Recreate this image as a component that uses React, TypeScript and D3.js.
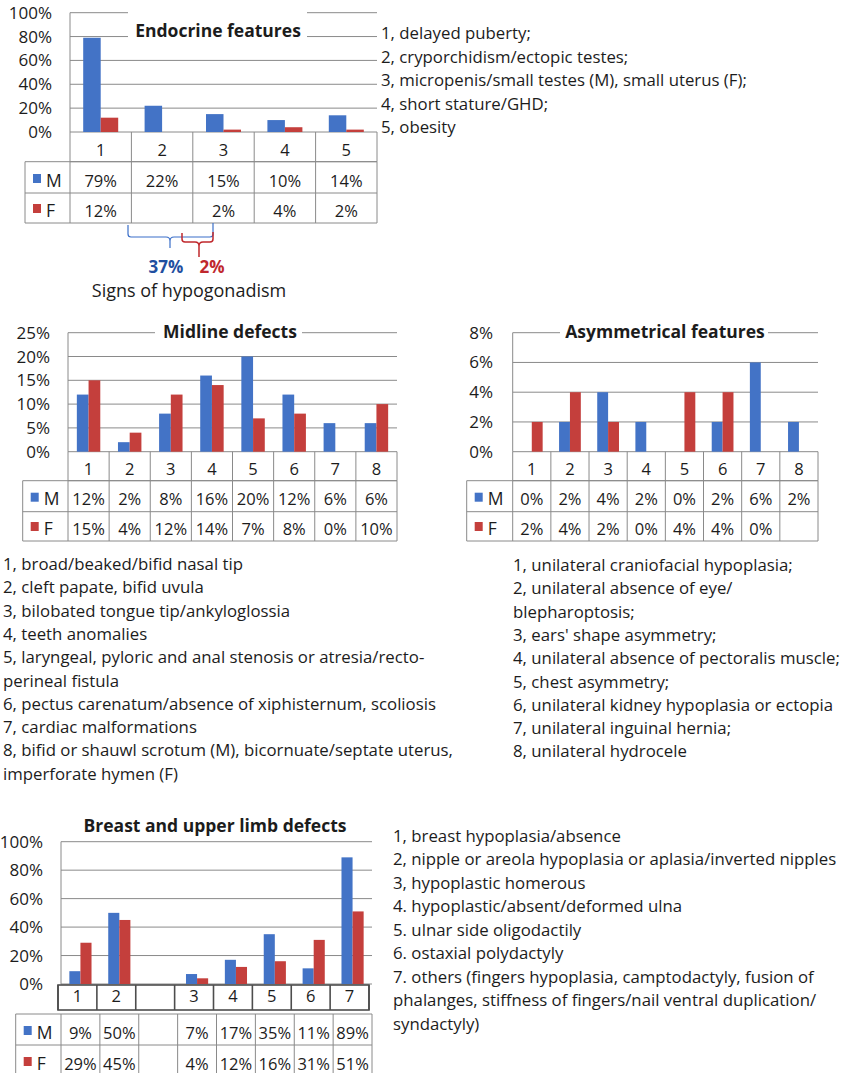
// @ts-nocheck
import React, { useEffect, useRef } from "react";
import * as d3 from "d3";

const BLUE = "#4373c6";
const RED = "#c43f3c";
const INK = "#1c1c1c";
const GRID = "#8a8a8a";
const FONT = "'Open Sans', Lato, sans-serif";

// Endocrine features
const endoCats = ["1", "2", "3", "4", "5"];
const endoM = [79, 22, 15, 10, 14];
const endoF = [12, null, 2, 4, 2];
const endoTicks = [0, 20, 40, 60, 80, 100];
const endoNotes = [
  "1, delayed puberty;",
  "2, cryporchidism/ectopic testes;",
  "3, micropenis/small testes (M), small uterus (F);",
  "4, short stature/GHD;",
  "5, obesity",
];

// Midline defects
const midCats = ["1", "2", "3", "4", "5", "6", "7", "8"];
const midM = [12, 2, 8, 16, 20, 12, 6, 6];
const midF = [15, 4, 12, 14, 7, 8, 0, 10];
const midTicks = [0, 5, 10, 15, 20, 25];
const midNotes = [
  "1, broad/beaked/bifid nasal tip",
  "2, cleft papate, bifid uvula",
  "3, bilobated tongue tip/ankyloglossia",
  "4, teeth anomalies",
  "5, laryngeal, pyloric and anal stenosis or atresia/recto-",
  "perineal fistula",
  "6, pectus carenatum/absence of xiphisternum, scoliosis",
  "7, cardiac malformations",
  "8, bifid or shauwl scrotum (M), bicornuate/septate uterus,",
  "imperforate hymen (F)",
];

// Asymmetrical features
const asymCats = ["1", "2", "3", "4", "5", "6", "7", "8"];
const asymM = [0, 2, 4, 2, 0, 2, 6, 2];
const asymF = [2, 4, 2, 0, 4, 4, 0, null];
const asymTicks = [0, 2, 4, 6, 8];
const asymNotes = [
  "1, unilateral craniofacial hypoplasia;",
  "2, unilateral absence of eye/",
  "blepharoptosis;",
  "3, ears' shape asymmetry;",
  "4, unilateral absence of pectoralis muscle;",
  "5, chest asymmetry;",
  "6, unilateral kidney hypoplasia or ectopia",
  "7, unilateral inguinal hernia;",
  "8, unilateral hydrocele",
];

// Breast and upper limb defects
const breastCats = ["1", "2", "", "3", "4", "5", "6", "7"];
const breastM = [9, 50, null, 7, 17, 35, 11, 89];
const breastF = [29, 45, null, 4, 12, 16, 31, 51];
const breastTicks = [0, 20, 40, 60, 80, 100];
const breastNotes = [
  "1, breast hypoplasia/absence",
  "2, nipple or areola hypoplasia or aplasia/inverted nipples",
  "3, hypoplastic homerous",
  "4. hypoplastic/absent/deformed ulna",
  "5. ulnar side oligodactily",
  "6. ostaxial polydactyly",
  "7. others (fingers hypoplasia, camptodactyly, fusion of",
  "phalanges, stiffness of fingers/nail ventral duplication/",
  "syndactyly)",
];

function line(g, x1, y1, x2, y2, color = GRID, w = 1) {
  g.append("line")
    .attr("x1", x1).attr("y1", y1).attr("x2", x2).attr("y2", y2)
    .attr("stroke", color).attr("stroke-width", w);
}

function drawPanel(svg, p) {
  const g = svg.append("g");
  const idx = p.cats.map((c, i) => i);
  const x = d3.scaleBand().domain(idx).range([p.x0, p.x1]).paddingInner(0.43).paddingOuter(0.215);
  const y = d3.scaleLinear().domain([0, p.max]).range([p.yBot, p.yTop]);
  const s = d3.scaleBand().domain(["M", "F"]).range([0, x.bandwidth()]);
  const step = x.step();
  const cellX = (i) => x(i) - step * x.paddingOuter();

  // gridlines
  p.ticks.forEach((t) => {
    const yy = y(t);
    if (p.gap && p.gap.ticks.includes(t)) {
      line(g, p.x0, yy, p.gap.from, yy);
      line(g, p.gap.to, yy, p.x1, yy);
    } else {
      line(g, p.x0, yy, p.x1, yy);
    }
    g.append("text")
      .attr("x", p.tickX).attr("y", yy + 6)
      .attr("text-anchor", "end")
      .attr("font-size", 17).attr("fill", INK)
      .text(t + "%");
  });
  line(g, p.x0, p.yTop, p.x0, p.yBot);

  // bars
  [["M", p.m, BLUE], ["F", p.f, RED]].forEach(([key, vals, color]) => {
    g.selectAll(null)
      .data(vals.map((v, i) => ({ v, i })).filter((d) => d.v))
      .join("rect")
      .attr("x", (d) => x(d.i) + s(key))
      .attr("y", (d) => y(d.v))
      .attr("width", s.bandwidth())
      .attr("height", (d) => p.yBot - y(d.v))
      .attr("fill", color);
  });

  // category row
  const cs = p.catShift || 0;
  const [cTop, cBot] = p.catRow;
  const catColor = p.catBold ? "#4d4d4d" : GRID;
  const catW = p.catBold ? 1.6 : 1;
  if (p.catBold) {
    g.append("rect")
      .attr("x", p.x0 + cs).attr("y", cTop)
      .attr("width", p.x1 - p.x0).attr("height", cBot - cTop)
      .attr("fill", "none").attr("stroke", catColor).attr("stroke-width", catW);
  } else {
    line(g, p.x0, cBot, p.x1, cBot, catColor, catW);
  }
  idx.forEach((i) => {
    line(g, cellX(i) + cs, cTop, cellX(i) + cs, cBot, catColor, catW);
    g.append("text")
      .attr("x", x(i) + x.bandwidth() / 2 + cs).attr("y", cBot - (p.catBold ? 8 : 6))
      .attr("text-anchor", "middle")
      .attr("font-size", 16.5).attr("fill", INK)
      .text(p.cats[i]);
  });
  line(g, p.x1 + cs, cTop, p.x1 + cs, cBot, catColor, catW);

  // data table
  const [dTop, dMid, dBot] = p.dataRows;
  [dTop, dMid, dBot].forEach((yy) => line(g, p.legendX, yy, p.x1, yy));
  line(g, p.legendX, dTop, p.legendX, dBot);
  idx.forEach((i) => line(g, cellX(i), dTop, cellX(i), dBot));
  line(g, p.x1, dTop, p.x1, dBot);

  [["M", p.m, BLUE, dTop, dMid], ["F", p.f, RED, dMid, dBot]].forEach(([key, vals, color, r0, r1]) => {
    g.append("rect")
      .attr("x", p.legendX + 8).attr("y", r1 - 19)
      .attr("width", 8).attr("height", 9)
      .attr("fill", color);
    g.append("text")
      .attr("x", p.legendX + 21).attr("y", r1 - 6.5)
      .attr("font-size", 17.5).attr("fill", INK)
      .text(key);
    vals.forEach((v, i) => {
      g.append("text")
        .attr("x", x(i) + x.bandwidth() / 2).attr("y", r1 - 6.5)
        .attr("text-anchor", "middle")
        .attr("font-size", 16.5).attr("fill", INK)
        .text(v == null ? "" : v + "%");
    });
  });

  // title
  g.append("text")
    .attr("x", p.titleX).attr("y", p.titleY)
    .attr("text-anchor", "middle")
    .attr("font-size", 17.5).attr("font-weight", "bold").attr("fill", INK)
    .text(p.title);
}

function drawNotes(svg, lines, x, y0, dy) {
  svg.append("g").selectAll("text")
    .data(lines)
    .join("text")
    .attr("x", x)
    .attr("y", (d, i) => y0 + i * dy)
    .attr("font-size", 16.8)
    .attr("fill", INK)
    .text((d) => d);
}

export default function App() {
  const ref = useRef(null);

  useEffect(() => {
    const svg = d3.select(ref.current);
    svg.selectAll("*").remove();

    drawPanel(svg, {
      cats: endoCats, m: endoM, f: endoF, ticks: endoTicks, max: 100,
      x0: 70, x1: 377, yTop: 12.7, yBot: 132, tickX: 52,
      catRow: [132, 161.7], dataRows: [161.7, 193, 223], legendX: 25,
      title: "Endocrine features", titleX: 218, titleY: 37,
      gap: { from: 128, to: 307, ticks: [100, 80] },
    });
    drawPanel(svg, {
      cats: midCats, m: midM, f: midF, ticks: midTicks, max: 25,
      x0: 68, x1: 397, yTop: 332.7, yBot: 451.7, tickX: 50,
      catRow: [451.7, 480.7], dataRows: [480.7, 511.7, 541], legendX: 22.7,
      title: "Midline defects", titleX: 230, titleY: 338,
      gap: { from: 155, to: 302, ticks: [25] },
    });
    drawPanel(svg, {
      cats: asymCats, m: asymM, f: asymF, ticks: asymTicks, max: 8,
      x0: 512.7, x1: 818, yTop: 332.7, yBot: 451.7, tickX: 493,
      catRow: [451.7, 480.7], dataRows: [480.7, 511.7, 541], legendX: 466.7,
      title: "Asymmetrical features", titleX: 665, titleY: 338,
      gap: { from: 560, to: 768, ticks: [8] },
    });
    drawPanel(svg, {
      cats: breastCats, m: breastM, f: breastF, ticks: breastTicks, max: 100,
      x0: 61, x1: 372, yTop: 841.7, yBot: 984, tickX: 43,
      catRow: [985, 1010], catShift: -3, catBold: true,
      dataRows: [1014, 1045, 1076], legendX: 15.7,
      title: "Breast and upper limb defects", titleX: 215, titleY: 832,
    });

    drawNotes(svg, endoNotes, 381, 39, 23.5);
    drawNotes(svg, midNotes, 3, 570, 23.3);
    drawNotes(svg, asymNotes, 513, 571, 23.3);
    drawNotes(svg, breastNotes, 393, 841.5, 23.5);

    // hypogonadism braces
    const b = svg.append("g").attr("fill", "none");
    b.append("path")
      .attr("d", "M128,225 V234 Q128,237 131,237 H166 Q170,237 170,241 V248 M170,241 Q170,237 174,237 H210 Q213,237 213,234 V223")
      .attr("stroke", "#3b6fc9").attr("stroke-width", 1.2);
    b.append("path")
      .attr("d", "M182,233 V239 Q182,242 185,242 H195 Q199,242 199,246 V257 M199,246 Q199,242 203,242 H210 Q213,242 213,239 V232")
      .attr("stroke", "#c0282d").attr("stroke-width", 1.5);
    svg.append("text")
      .attr("x", 166).attr("y", 272.5).attr("text-anchor", "middle")
      .attr("font-size", 17).attr("font-weight", "bold").attr("fill", "#1f4fa0")
      .text("37%");
    svg.append("text")
      .attr("x", 212).attr("y", 272.5).attr("text-anchor", "middle")
      .attr("font-size", 17).attr("font-weight", "bold").attr("fill", "#c0282d")
      .text("2%");
    svg.append("text")
      .attr("x", 189).attr("y", 297).attr("text-anchor", "middle")
      .attr("font-size", 18).attr("fill", INK)
      .text("Signs of hypogonadism");
  }, []);

  return (
    <svg
      ref={ref}
      width={845}
      height={1073}
      style={{ position: "absolute", left: 0, top: 0, background: "#fff", fontFamily: FONT }}
    />
  );
}
